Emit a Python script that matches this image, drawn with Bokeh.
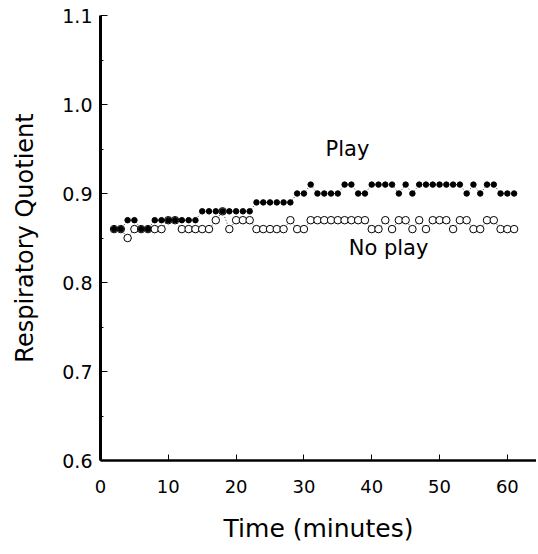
from bokeh.plotting import figure
from bokeh.embed import file_html
from bokeh.resources import INLINE
from bokeh.models import Label, FixedTicker, NumeralTickFormatter

# Time (minutes)
minutes = list(range(2, 62))

# Respiratory quotient, "Play" condition (filled circles)
play = [0.86, 0.86, 0.87, 0.87, 0.86, 0.86,                    # 2-7
        0.87, 0.87, 0.87, 0.87, 0.87, 0.87, 0.87,              # 8-14
        0.88, 0.88, 0.88, 0.88, 0.88, 0.88, 0.88, 0.88,        # 15-22
        0.89, 0.89, 0.89, 0.89, 0.89, 0.89,                    # 23-28
        0.90, 0.90, 0.91, 0.90, 0.90, 0.90, 0.90,              # 29-35
        0.91, 0.91, 0.90, 0.90, 0.91, 0.91, 0.91, 0.91,        # 36-43
        0.90, 0.91, 0.90,                                      # 44-46
        0.91, 0.91, 0.91, 0.91, 0.91, 0.91, 0.91,              # 47-53
        0.90, 0.91, 0.90, 0.91, 0.91, 0.90, 0.90, 0.90]        # 54-61

# Respiratory quotient, "No play" condition (open circles)
no_play = [0.86, 0.86, 0.85, 0.86, 0.86, 0.86, 0.86, 0.86,     # 2-9
           0.87, 0.87, 0.86, 0.86, 0.86, 0.86, 0.86,           # 10-16
           0.87, 0.88, 0.86, 0.87, 0.87, 0.87,                 # 17-22
           0.86, 0.86, 0.86, 0.86, 0.86, 0.87, 0.86, 0.86,     # 23-30
           0.87, 0.87, 0.87, 0.87, 0.87, 0.87, 0.87, 0.87, 0.87,  # 31-39
           0.86, 0.86, 0.87, 0.86, 0.87, 0.87, 0.86,           # 40-46
           0.87, 0.86, 0.87, 0.87, 0.87, 0.86, 0.87, 0.87,     # 47-54
           0.86, 0.86, 0.87, 0.87, 0.86, 0.86, 0.86]           # 55-61

x_ticks = [0, 10, 20, 30, 40, 50, 60]
y_ticks = [0.6, 0.7, 0.8, 0.9, 1.0, 1.1]
y_minor = [0.65, 0.75, 0.85, 0.95, 1.05]

FONT = "DejaVu Sans"

p = figure(width=536, height=550, x_range=(0, 64.3), y_range=(0.6, 1.1),
           output_backend="svg", toolbar_location=None,
           min_border_left=100, min_border_right=0, min_border_top=15,
           min_border_bottom=90)
p.outline_line_color = None
p.grid.visible = False
p.background_fill_color = "white"

# series
p.line(minutes, no_play, line_color="black", line_width=0.8, line_dash="1 2")
p.scatter(minutes, no_play, size=7.5, marker="circle", fill_color="white",
          line_color="black", line_width=1)
p.line(minutes, play, line_color="black", line_width=0.8, line_dash="1 2")
p.scatter(minutes, play, size=5.5, marker="circle", fill_color="black",
          line_color="black")

p.add_layout(Label(x=33.2, y=0.936, text="Play", text_font=FONT,
                   text_font_size="21px", text_color="black"))
p.add_layout(Label(x=36.6, y=0.825, text="No play", text_font=FONT,
                   text_font_size="21px", text_color="black"))

# x axis
xa = p.xaxis[0]
xa.ticker = FixedTicker(ticks=x_ticks)
xa.axis_line_width = 2.5
xa.major_tick_in = 6
xa.major_tick_out = 0
xa.minor_tick_line_color = None
xa.major_label_standoff = 19
xa.major_label_text_font = FONT
xa.major_label_text_font_size = "18px"
xa.major_label_text_color = "black"
xa.axis_label = "Time (minutes)"
xa.axis_label_text_font = FONT
xa.axis_label_text_font_size = "25px"
xa.axis_label_text_font_style = "normal"
xa.axis_label_text_color = "black"
xa.axis_label_standoff = 18

# y axis
ya = p.yaxis[0]
ya.ticker = FixedTicker(ticks=y_ticks, minor_ticks=y_minor)
ya.formatter = NumeralTickFormatter(format="0.0")
ya.axis_line_width = 3
ya.major_tick_in = 7
ya.major_tick_out = 0
ya.minor_tick_in = 3
ya.minor_tick_out = 0
ya.major_label_standoff = 8
ya.major_label_text_font = FONT
ya.major_label_text_font_size = "19px"
ya.major_label_text_color = "black"
ya.axis_label = "Respiratory Quotient"
ya.axis_label_text_font = FONT
ya.axis_label_text_font_size = "24px"
ya.axis_label_text_font_style = "normal"
ya.axis_label_text_color = "black"
ya.axis_label_standoff = 20

open("out.html", "w").write(file_html(p, INLINE))
